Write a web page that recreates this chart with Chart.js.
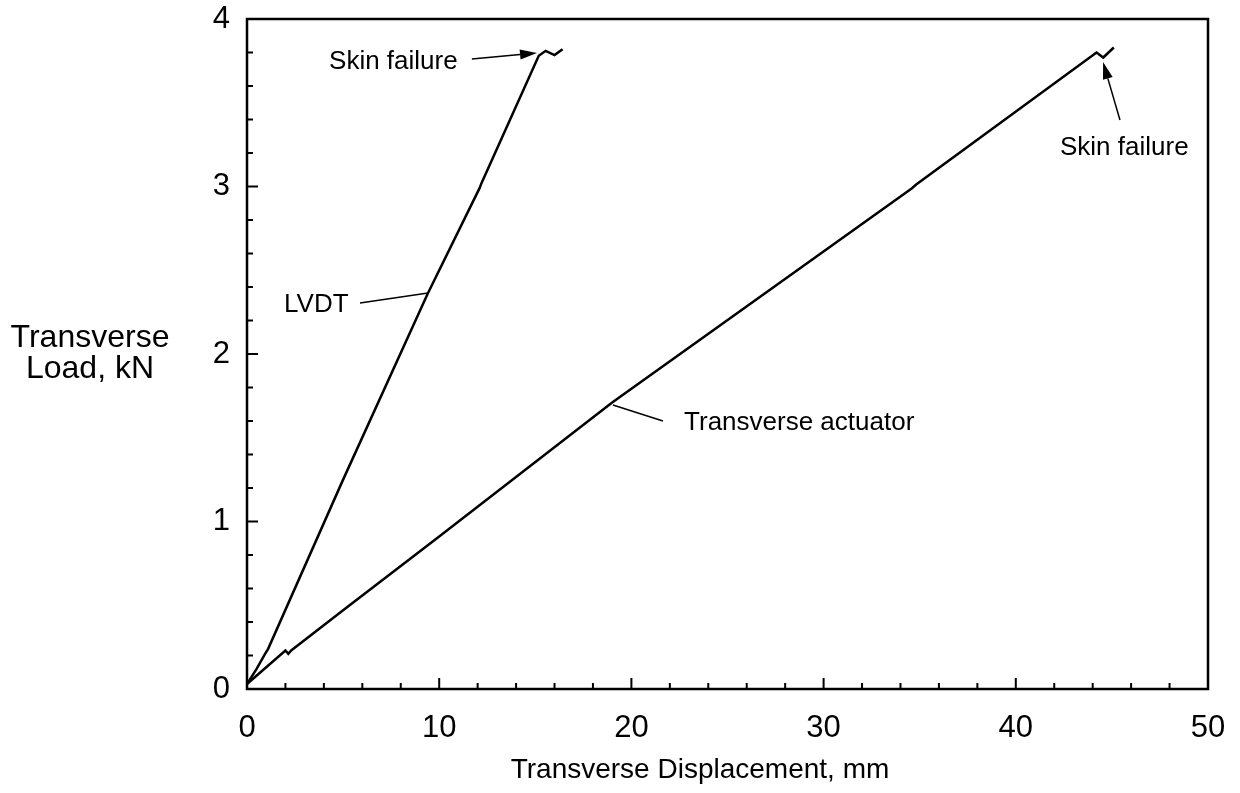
<!DOCTYPE html>
<html>
<head>
<meta charset="utf-8">
<script src="https://cdn.jsdelivr.net/npm/chart.js@4"></script>
<style>
  html, body { margin: 0; padding: 0; background: #fff; }
  #wrap { width: 1240px; height: 793px; position: relative; }
</style>
</head>
<body>
<div id="wrap"><canvas id="chart"></canvas></div>
<script>
// displacement (mm) / load (kN)
const lvdtX = [0, 0.5, 0.94, 1.1, 5, 9.4, 12.1, 12.2, 15.18, 15.54, 16.0, 16.42];
const lvdtY = [0.03, 0.12, 0.21, 0.24, 1.25, 2.36, 2.99, 3.02, 3.78, 3.81, 3.785, 3.82];

const actuatorX = [0, 1.0, 2.0, 2.15, 2.3, 5, 10, 19, 34.6, 34.8, 44.2, 44.55, 45.1];
const actuatorY = [0.03, 0.13, 0.23, 0.21, 0.23, 0.47, 0.91, 1.71, 2.99, 3.01, 3.80, 3.77, 3.83];

const xTicks = [0, 10, 20, 30, 40, 50];
const yTicks = [0, 1, 2, 3, 4];
const yTitle = ["Transverse", "Load, kN"];
const xTitle = "Transverse Displacement, mm";

// callouts: text at (x, y), leader from p1 to p2, arrow = filled head at p2
const notes = [
  { text: "Skin failure", x: 4.27, y: 3.743, p1: [11.7, 3.761], p2: [15.09, 3.797], arrow: true },
  { text: "Skin failure", x: 42.3, y: 3.23, p1: [45.42, 3.397], p2: [44.54, 3.743], arrow: true },
  { text: "LVDT", x: 1.93, y: 2.293, p1: [5.88, 2.304], p2: [9.42, 2.364], arrow: false },
  { text: "Transverse actuator", x: 22.74, y: 1.588, p1: [21.64, 1.6], p2: [19.04, 1.696], arrow: false },
];

const FONT = "'Liberation Sans', Arial, Helvetica, sans-serif";

function pts(xs, ys) {
  return xs.map((x, i) => ({ x: x, y: ys[i] }));
}

const extras = {
  id: "extras",
  afterDraw(chart) {
    const ctx = chart.ctx;
    const a = chart.chartArea;
    const xs = chart.scales.x, ys = chart.scales.y;
    ctx.save();
    ctx.strokeStyle = "#000";
    ctx.fillStyle = "#000";

    // frame
    ctx.lineWidth = 2.5;
    ctx.strokeRect(a.left, a.top, a.right - a.left, a.bottom - a.top);

    // inward ticks
    ctx.lineWidth = 2;
    ctx.beginPath();
    for (let v = 0; v <= 50; v += 2) {
      const px = xs.getPixelForValue(v);
      const len = v % 10 === 0 ? 11 : 6;
      ctx.moveTo(px, a.bottom);
      ctx.lineTo(px, a.bottom - len);
    }
    for (let i = 0; i <= 20; i++) {
      const v = i / 5;
      const py = ys.getPixelForValue(v);
      const len = i % 5 === 0 ? 11 : 6;
      ctx.moveTo(a.left, py);
      ctx.lineTo(a.left + len, py);
    }
    ctx.stroke();

    // axis titles
    ctx.textAlign = "center";
    ctx.textBaseline = "middle";
    ctx.font = "28px " + FONT;
    ctx.fillText(xTitle, 700, a.bottom + 81);
    ctx.font = "32px " + FONT;
    const midY = (a.top + a.bottom) / 2;
    ctx.fillText(yTitle[0], 90, midY - 16);
    ctx.fillText(yTitle[1], 90, midY + 15);

    // callouts
    ctx.font = "26px " + FONT;
    ctx.textAlign = "left";
    notes.forEach(n => {
      ctx.fillText(n.text, xs.getPixelForValue(n.x), ys.getPixelForValue(n.y));
      const x1 = xs.getPixelForValue(n.p1[0]), y1 = ys.getPixelForValue(n.p1[1]);
      const x2 = xs.getPixelForValue(n.p2[0]), y2 = ys.getPixelForValue(n.p2[1]);
      const ang = Math.atan2(y2 - y1, x2 - x1);
      const head = n.arrow ? 17 : 0;
      ctx.lineWidth = 1.5;
      ctx.beginPath();
      ctx.moveTo(x1, y1);
      ctx.lineTo(x2 - head * Math.cos(ang), y2 - head * Math.sin(ang));
      ctx.stroke();
      if (n.arrow) {
        ctx.beginPath();
        ctx.moveTo(x2, y2);
        ctx.lineTo(x2 - head * Math.cos(ang) + 5 * Math.sin(ang), y2 - head * Math.sin(ang) - 5 * Math.cos(ang));
        ctx.lineTo(x2 - head * Math.cos(ang) - 5 * Math.sin(ang), y2 - head * Math.sin(ang) + 5 * Math.cos(ang));
        ctx.closePath();
        ctx.fill();
      }
    });
    ctx.restore();
  }
};

new Chart(document.getElementById("chart"), {
  type: "scatter",
  data: {
    datasets: [
      {
        label: "LVDT",
        data: pts(lvdtX, lvdtY),
        showLine: true,
        borderColor: "#000",
        borderWidth: 2.5,
        pointRadius: 0,
        tension: 0,
      },
      {
        label: "Transverse actuator",
        data: pts(actuatorX, actuatorY),
        showLine: true,
        borderColor: "#000",
        borderWidth: 2.5,
        pointRadius: 0,
        tension: 0,
      },
    ],
  },
  options: {
    responsive: true,
    maintainAspectRatio: false,
    animation: false,
    layout: { padding: { top: 19, right: 32, left: 0, bottom: 0 } },
    plugins: {
      legend: { display: false },
      tooltip: { enabled: false },
    },
    scales: {
      x: {
        type: "linear",
        min: 0,
        max: 50,
        afterFit(scale) {
          scale.height = 104;
          scale.paddingLeft = 0;
          scale.paddingRight = 0;
        },
        afterBuildTicks(scale) { scale.ticks = xTicks.map(v => ({ value: v })); },
        grid: { display: false, drawTicks: false },
        border: { display: false },
        ticks: {
          color: "#000",
          padding: 21,
          font: { family: FONT, size: 31 },
        },
      },
      y: {
        type: "linear",
        min: 0,
        max: 4,
        afterFit(scale) {
          scale.width = 247;
          scale.paddingTop = 0;
          scale.paddingBottom = 0;
        },
        afterBuildTicks(scale) { scale.ticks = yTicks.map(v => ({ value: v })); },
        grid: { display: false, drawTicks: false },
        border: { display: false },
        ticks: {
          color: "#000",
          padding: 17,
          font: { family: FONT, size: 31 },
        },
      },
    },
  },
  plugins: [extras],
});
</script>
</body>
</html>
